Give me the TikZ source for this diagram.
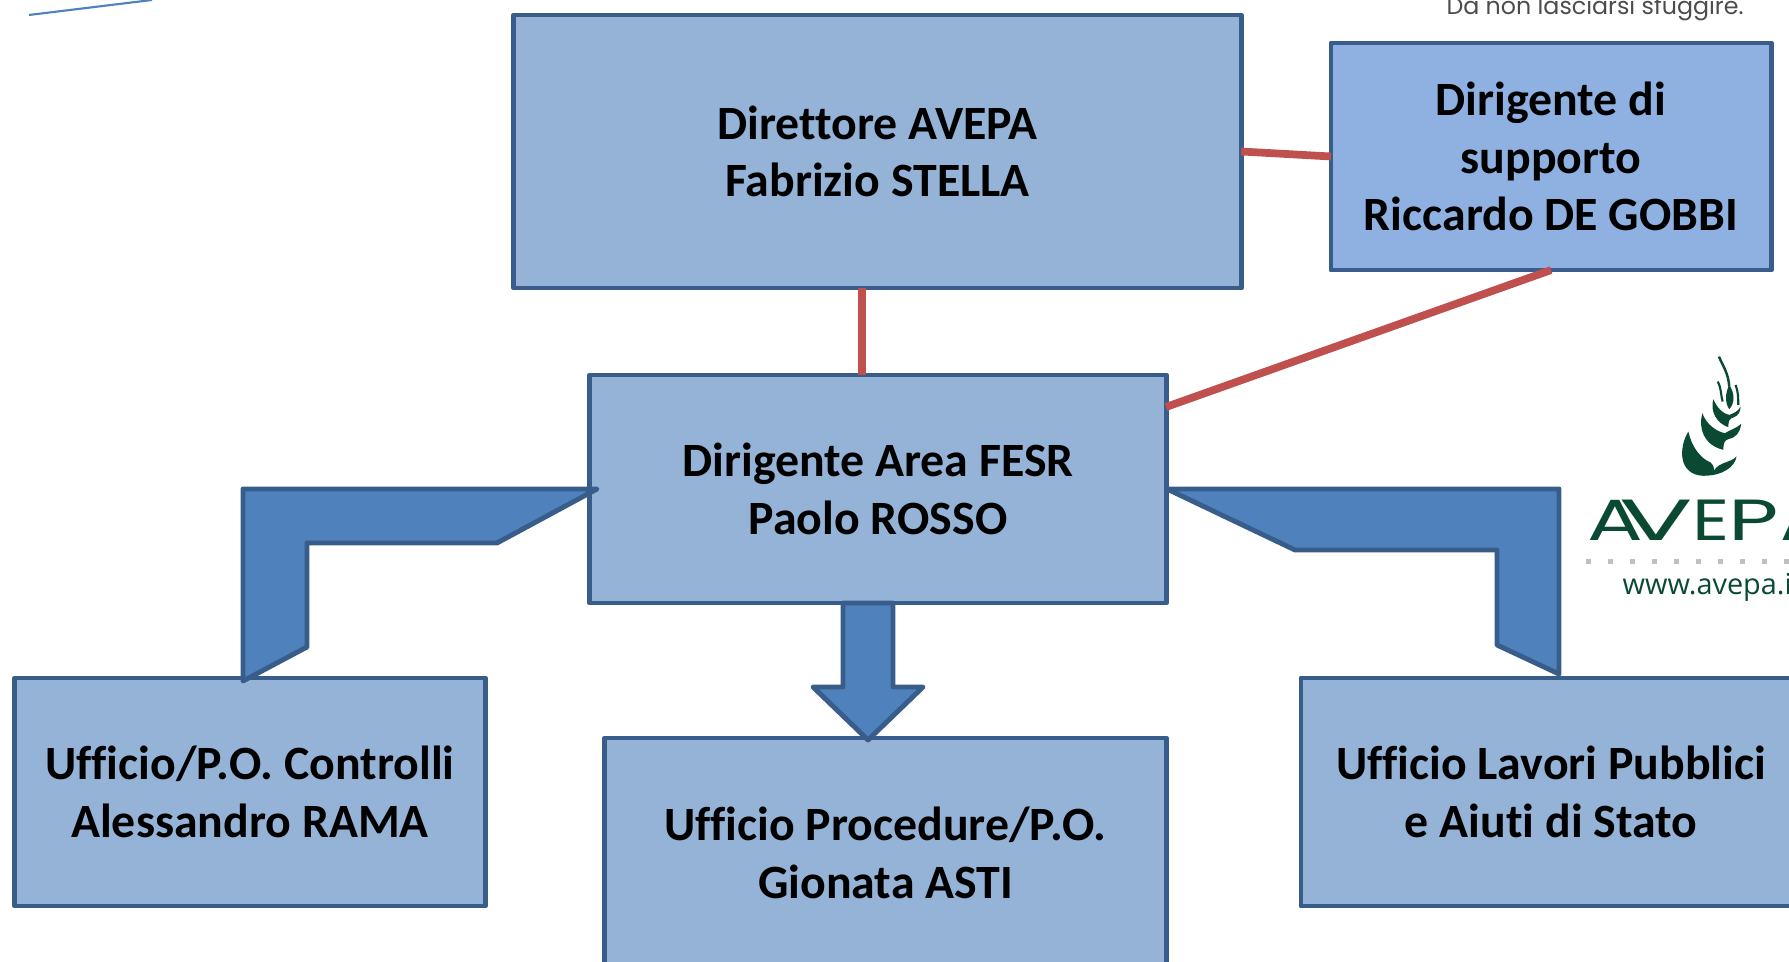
\documentclass[tikz,border=0pt]{standalone}
\usepackage{graphicx}
\usepackage{fontspec}
\setmainfont[Ligatures=CommonOff]{Carlito}
\newfontfamily\logofont{Poppins}
\newfontfamily\webfont{Open Sans}
\definecolor{boxfill}{HTML}{95B3D7}
\definecolor{boxfilltwo}{HTML}{8EB1E2}
\definecolor{boxline}{HTML}{385D8A}
\definecolor{arrowfill}{HTML}{4F81BD}
\definecolor{linkred}{HTML}{C0504D}
\definecolor{logogreen}{HTML}{0B4A32}
\tikzset{
    orgbox/.style={draw=boxline,fill=boxfill,line width=1.35pt,line join=round,outer sep=0pt,inner sep=0pt,align=center,
        font=\fontsize{13.6}{16.4}\selectfont\bfseries},
    blockarrow/.style={draw=boxline,fill=arrowfill,line width=1.4pt,line join=round},
    linkline/.style={draw=linkred,line width=2.2pt}
}
\begin{document}
\begin{tikzpicture}[x=0.01cm,y=-0.01cm]
    \useasboundingbox (0,0) rectangle (1789,962);
    \clip (0,0) rectangle (1789,962);
    \coordinate (strokeA) at (29,15);
    \coordinate (strokeB) at (152,0);
    \draw[color=arrowfill,line width=0.6pt] (strokeA) -- (strokeB);
    \node[anchor=base,text=black!70,font=\logofont\fontsize{6.75}{8}\selectfont] (motto) at (1595,15) {Da non lasciarsi sfuggire.};
    \node[orgbox,minimum width=7.27cm,minimum height=2.73cm] (direttore) at (877.5,151.5) {Direttore AVEPA\\Fabrizio STELLA};
    \node[orgbox,fill=boxfilltwo,minimum width=4.40cm,minimum height=2.27cm] (supporto) at (1551,156.5) {Dirigente di\\supporto\\Riccardo DE GOBBI};
    \node[orgbox,minimum width=5.76cm,minimum height=2.28cm] (area) at (878,489) {Dirigente Area FESR\\Paolo ROSSO};
    \node[orgbox,minimum width=4.70cm,minimum height=2.28cm] (controlli) at (250,792) {Ufficio/P.O. Controlli\\Alessandro RAMA};
    \node[orgbox,minimum width=5.61cm,minimum height=2.30cm] (procedure) at (885.5,853) {Ufficio Procedure/P.O.\\Gionata ASTI};
    \node[orgbox,minimum width=5.00cm,minimum height=2.28cm] (lavori) at (1551,792) {Ufficio Lavori Pubblici\\e Aiuti di Stato};
    \coordinate (areatop) at (862,375);
    \coordinate (direttorefoot) at (862,288);
    \coordinate (areaside) at (1166,407);
    \draw[linkline] (direttore.east) -- (supporto.west);
    \draw[linkline] (direttorefoot) -- (areatop);
    \draw[linkline] (supporto.south) -- (areaside);
    \draw[blockarrow] (597,489) -- (243,489) -- (243,681) -- (307,647) -- (307,543) -- (497,543) -- cycle;
    \draw[blockarrow] (843,603) -- (893,603) -- (893,687) -- (923,687) -- (868,740) -- (813,687) -- (843,687) -- cycle;
    \draw[blockarrow] (1167,489) -- (1559,489) -- (1559,674) -- (1497,645) -- (1497,550) -- (1295,550) -- cycle;
    \begin{scope}[shift={(1670,350)},x=0.00333cm,y=-0.00333cm]
        \fill[logogreen] (55,245) .. controls (25,295) and (25,375) .. (100,378) .. controls (160,378) and (195,350) .. (200,320) .. controls (180,340) and (150,335) .. (132,362) .. controls (132,350) and (128,342) .. (122,338) .. controls (90,325) and (65,290) .. (55,245) -- cycle;
        \fill[logogreen] (97,190) .. controls (85,235) and (100,285) .. (160,300) .. controls (160,280) and (165,270) .. (175,268) .. controls (195,265) and (210,250) .. (214,222) .. controls (200,235) and (180,240) .. (165,250) .. controls (140,245) and (110,225) .. (97,190) -- cycle;
        \fill[logogreen] (130,148) .. controls (120,185) and (140,220) .. (175,232) .. controls (175,212) and (180,205) .. (190,203) .. controls (205,198) and (212,185) .. (212,170) .. controls (205,185) and (190,190) .. (178,195) .. controls (155,190) and (140,170) .. (130,148) -- cycle;
        \fill[logogreen] (178,105) .. controls (165,130) and (165,160) .. (178,178) .. controls (195,160) and (195,130) .. (178,105) -- cycle;
        \draw[logogreen,line width=0.7pt] (147,20) .. controls (160,50) and (175,70) .. (178,110);
        \draw[logogreen,line width=0.6pt] (143,95) .. controls (155,115) and (152,135) .. (158,155);
        \draw[logogreen,line width=0.6pt] (197,105) .. controls (205,125) and (205,145) .. (205,165);
    \end{scope}
    \node[anchor=base west,inner sep=0pt,text=logogreen,xscale=1.25,font=\logofont\fontsize{16.5}{18}\selectfont] (logoname) at (1587,541) {\scalebox{1.14}[1]{A}\kern-5.5pt \scalebox{1.5}[1]{V}\kern-0.2pt E\kern-0.3pt \scalebox{1.2}[1]{P}\kern0.5pt A};
    \foreach \i in {0,...,9}
        \fill[black!25] ({1588+22*\i-2.5},559.5) rectangle +(5,5);
    \node[anchor=base west,inner sep=0pt,text=logogreen,font=\webfont\fontsize{8.2}{9}\selectfont] (logoweb) at (1622,595) {www.avepa.it};
\end{tikzpicture}
\end{document}
